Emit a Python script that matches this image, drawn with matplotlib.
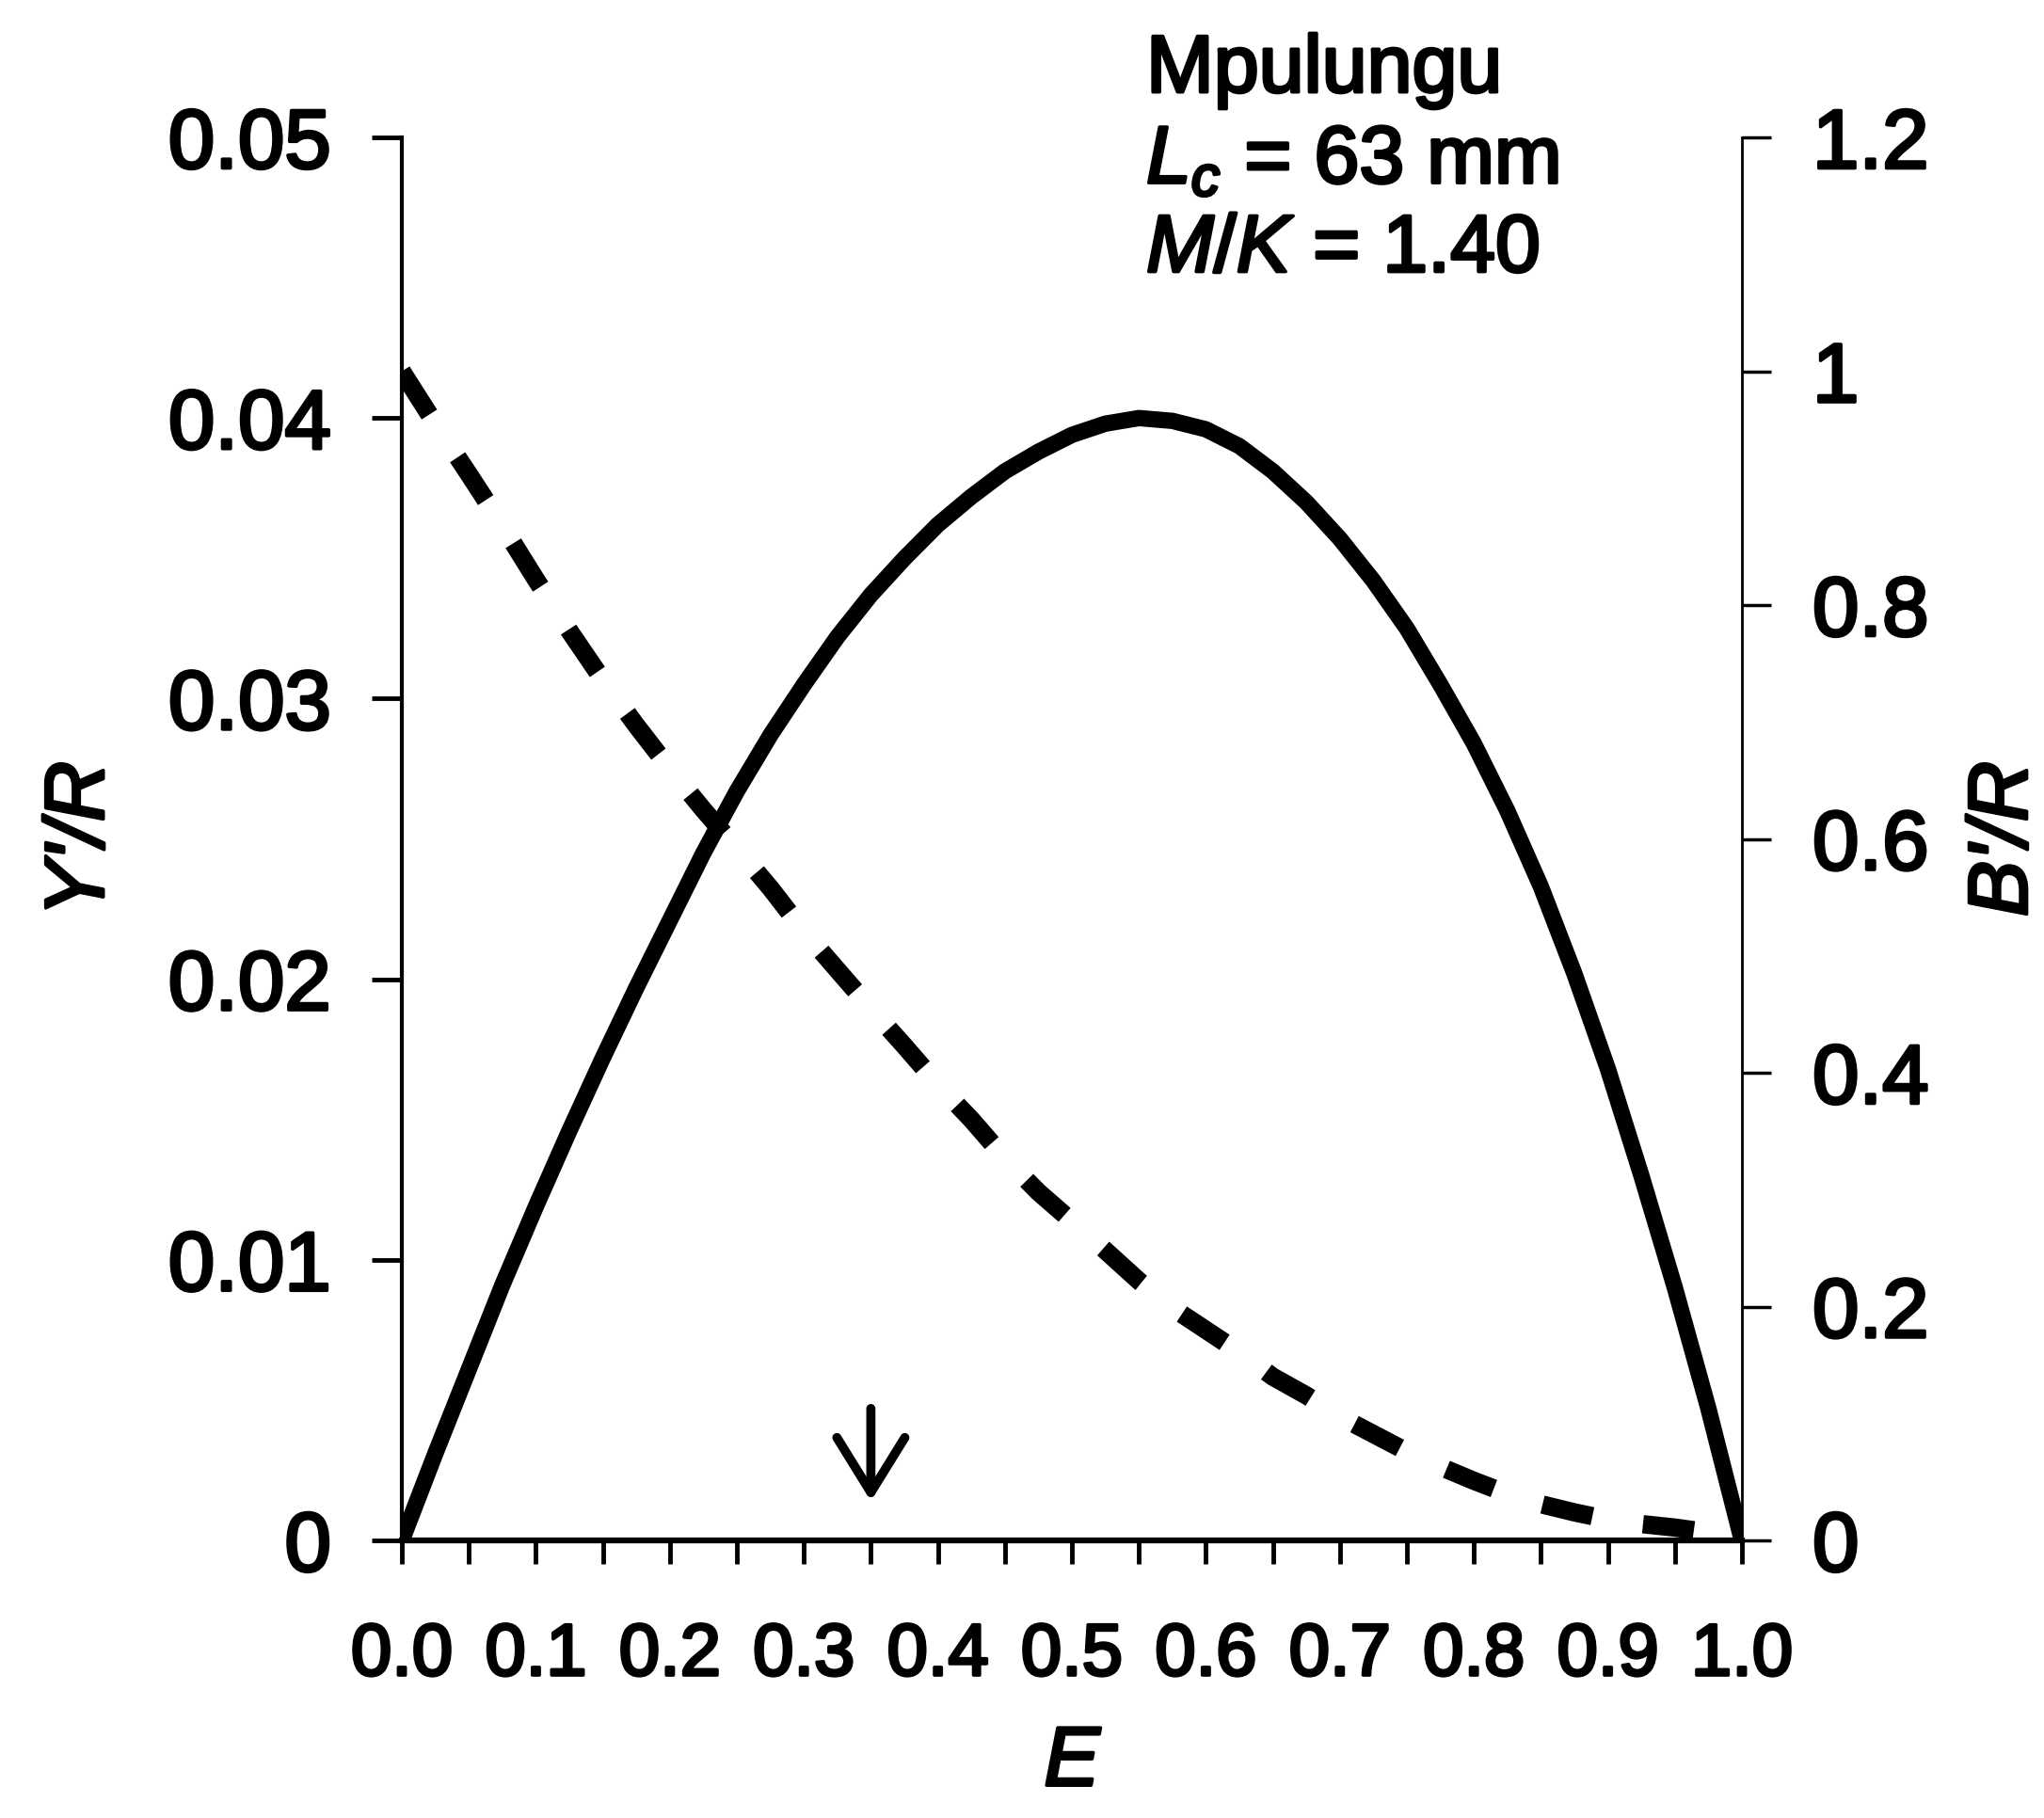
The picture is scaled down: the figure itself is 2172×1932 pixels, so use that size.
import numpy as np
import matplotlib.pyplot as plt
import matplotlib.patheffects as pe

plt.rcParams['font.family'] = ['Liberation Sans', 'DejaVu Sans']
plt.rcParams['mathtext.fontset'] = 'custom'
plt.rcParams['mathtext.rm'] = 'Liberation Sans'
plt.rcParams['mathtext.it'] = 'Liberation Sans:italic'

# Datos
E = [0.0, 0.025, 0.05, 0.075, 0.10, 0.125, 0.15, 0.175, 0.20, 0.225, 0.25,
     0.275, 0.30, 0.325, 0.35, 0.375, 0.40, 0.425, 0.45, 0.475, 0.50,
     0.525, 0.55, 0.575, 0.60, 0.625, 0.65, 0.675, 0.70, 0.725, 0.75,
     0.775, 0.80, 0.825, 0.85, 0.875, 0.90, 0.925, 0.95, 0.975, 1.0]
YR = [0.0, 0.0031, 0.0061, 0.0091, 0.0119, 0.0146, 0.0172, 0.0197, 0.0221,
      0.0245, 0.0267, 0.0287, 0.0305, 0.0322, 0.0337, 0.0350, 0.0362,
      0.0372, 0.0381, 0.0388, 0.0394, 0.0398, 0.0400, 0.0399, 0.0396,
      0.0390, 0.0381, 0.0370, 0.0357, 0.0342, 0.0325, 0.0305, 0.0284,
      0.0260, 0.0233, 0.0202, 0.0168, 0.0130, 0.0090, 0.0047, 0.0]
BR = [1.0, 0.955, 0.912, 0.868, 0.822, 0.778, 0.736, 0.697, 0.660, 0.625,
      0.592, 0.558, 0.521, 0.488, 0.455, 0.423, 0.390, 0.360, 0.327, 0.298,
      0.273, 0.248, 0.222, 0.199, 0.180, 0.161, 0.140, 0.124, 0.106, 0.091,
      0.076, 0.063, 0.051, 0.040, 0.031, 0.024, 0.018, 0.014, 0.011, 0.007,
      0.0]

x_ticks = [0.0, 0.1, 0.2, 0.3, 0.4, 0.5, 0.6, 0.7, 0.8, 0.9, 1.0]
x_labels = ['0.0', '0.1', '0.2', '0.3', '0.4', '0.5', '0.6', '0.7', '0.8', '0.9', '1.0']
y_ticks = [0, 0.01, 0.02, 0.03, 0.04, 0.05]
y_labels = ['0', '0.01', '0.02', '0.03', '0.04', '0.05']
y2_ticks = [0, 0.2, 0.4, 0.6, 0.8, 1.0, 1.2]
y2_labels = ['0', '0.2', '0.4', '0.6', '0.8', '1', '1.2']
E_arrow = 0.35

fs = 64
negrita = [pe.withStroke(linewidth=2.5, foreground='black')]

fig = plt.figure(figsize=(21.72, 19.33), dpi=100)
ax = fig.add_axes([0.1966, 0.1526, 0.6556, 0.7713])
ax2 = ax.twinx()

ax.plot(E, YR, color='black', lw=12.5, solid_capstyle='round', zorder=3)
ax2.plot(E, BR, color='black', lw=14, linestyle=(0, (2.8, 2.8)),
         dash_capstyle='butt', zorder=3)

ax.set_xlim(0, 1.0)
ax.set_ylim(0, 0.05)
ax2.set_ylim(0, 1.2)

ax.set_xticks(x_ticks)
ax.set_xticklabels(x_labels, fontsize=56)
ax.set_xticks(np.arange(0.05, 1.0, 0.1), minor=True)
ax.set_yticks(y_ticks)
ax.set_yticklabels(y_labels, fontsize=fs)
ax2.set_yticks(y2_ticks)
ax2.set_yticklabels(y2_labels, fontsize=fs)

ax.tick_params(axis='x', which='both', direction='out', length=18, width=3.5, pad=44)
ax.tick_params(axis='y', direction='out', length=23, width=3.5, pad=31)
ax2.tick_params(axis='y', direction='out', length=22, width=2.5, pad=32)

for a in (ax, ax2):
    a.spines['top'].set_visible(False)
ax.spines['left'].set_linewidth(3)
ax.spines['bottom'].set_linewidth(4.5)
ax.spines['right'].set_visible(False)
ax2.spines['left'].set_visible(False)
ax2.spines['bottom'].set_visible(False)
ax2.spines['right'].set_linewidth(2)

ax.set_xlabel('E', fontsize=fs, style='italic', labelpad=26)
ax.set_ylabel("Y'/R", fontsize=fs, style='italic', labelpad=36)
ax2.set_ylabel("B'/R", fontsize=fs, style='italic', rotation=90, labelpad=28)

# flecha
ax.annotate('', xy=(E_arrow, 0.0014), xytext=(E_arrow, 0.0047),
            arrowprops=dict(arrowstyle='->,head_length=4.2,head_width=2.6',
                            lw=7, color='black', shrinkA=0, shrinkB=0))

textos = [
    fig.text(0.5608, 0.981, 'Mpulungu', fontsize=62, va='top', ha='left'),
    fig.text(0.5608, 0.931, r'$L_c$ = 63 mm', fontsize=62, va='top', ha='left'),
    fig.text(0.5608, 0.882, r'$M/K$ = 1.40', fontsize=62, va='top', ha='left'),
]

etiquetas = (ax.get_xticklabels() + ax.get_yticklabels() + ax2.get_yticklabels()
             + [ax.xaxis.label, ax.yaxis.label, ax2.yaxis.label] + textos)
for t in etiquetas:
    t.set_path_effects(negrita)

fig.savefig('out.png', dpi=100)
